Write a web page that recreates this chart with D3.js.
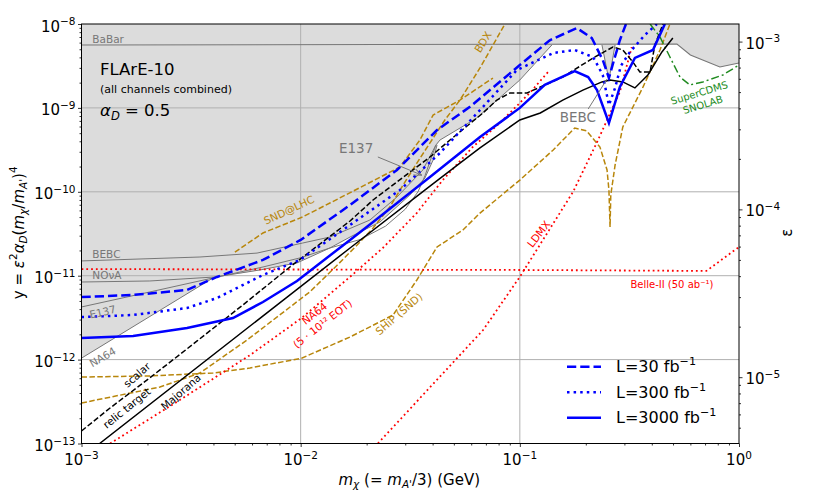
<!DOCTYPE html>
<html>
<head>
<meta charset="utf-8">
<script src="https://cdn.jsdelivr.net/npm/d3@7"></script>
<style>
  body { margin: 0; background: #fff; }
  svg text { font-family: "DejaVu Sans", sans-serif; }
</style>
</head>
<body>
<svg id="chart"></svg>
<script>
// ---- model parameters (for the epsilon axis) ----
var alphaD = 0.5;
var massRatio = 3;

// ---- existing limits (grey) ----
var excludedM = [1e-3, 3.98e-3, 6.52e-3, 9.62e-3, 1.36e-2, 1.68e-2, 2.30e-2, 3.15e-2, 3.69e-2, 4.02e-2, 4.19e-2, 4.32e-2, 6.37e-2, 0.100, 0.140, 0.237, 0.255, 0.272, 0.521, 0.60, 0.818, 1.0];
var excludedY = [1.04e-12, 9.4e-12, 1.17e-11, 1.42e-11, 2.14e-11, 2.89e-11, 4.36e-11, 9.16e-11, 1.46e-10, 2.39e-10, 3.61e-10, 4.14e-10, 7.59e-10, 2.15e-9, 5.62e-9, 5.62e-9, 2.15e-9, 5.62e-9, 5.78e-9, 4.27e-9, 3.07e-9, 3.43e-9];

var babarM = [1e-3, 0.521, 0.60, 0.818, 1.0];
var babarY = [5.62e-9, 5.78e-9, 4.27e-9, 3.07e-9, 3.43e-9];
var bebcM = [1e-3, 3.47e-3, 6.32e-3, 1.02e-2, 1.36e-2, 2.07e-2, 2.75e-2, 3.61e-2, 4.14e-2, 4.32e-2, 6.37e-2, 0.100, 0.140];
var bebcY = [1.5e-11, 1.67e-11, 1.86e-11, 2.45e-11, 2.89e-11, 4.61e-11, 8.67e-11, 1.82e-10, 3.61e-10, 4.14e-10, 7.59e-10, 2.15e-9, 5.62e-9];
var bebcDipM = [0.237, 0.255, 0.272];
var bebcDipY = [5.62e-9, 2.15e-9, 5.62e-9];
var novaM = [1e-3, 2.05e-3, 4.07e-3, 6.52e-3, 9.62e-3, 1.36e-2, 1.68e-2, 2.30e-2, 3.15e-2, 3.69e-2, 4.02e-2, 4.19e-2];
var novaY = [8.41e-12, 8.65e-12, 9.66e-12, 1.17e-11, 1.42e-11, 2.14e-11, 2.89e-11, 4.36e-11, 9.16e-11, 1.46e-10, 2.39e-10, 3.61e-10];
var e137M = [1e-3, 2.05e-3, 3.98e-3, 6.73e-3, 9.93e-3, 1.36e-2, 1.87e-2, 2.44e-2, 3.0e-2, 3.43e-2, 3.69e-2, 3.89e-2, 4.14e-2];
var e137Y = [4.24e-12, 6.4e-12, 9.4e-12, 1.27e-11, 1.63e-11, 2.14e-11, 2.7e-11, 3.9e-11, 6.2e-11, 1.0e-10, 1.55e-10, 2.3e-10, 3.61e-10];
var na64OldM = [1e-3, 3.98e-3];
var na64OldY = [1.04e-12, 9.4e-12];

// ---- projections ----
var belleM = [1e-3, 0.1, 0.71, 1.0];
var belleY = [1.2e-11, 1.17e-11, 1.14e-11, 2.2e-11];
var ldmxM = [2.25e-2, 6.8e-2, 0.1, 0.175, 0.227, 0.286, 0.324];
var ldmxY = [1e-13, 2.25e-12, 9.7e-12, 1e-10, 4.1e-10, 1.55e-9, 5.3e-9];
var na64M = [1.35e-3, 2.81e-3, 5.87e-3, 1.01e-2, 1.68e-2, 2.37e-2, 3.39e-2, 4.45e-2, 6.1e-2, 8.1e-2, 0.111, 0.137];
var na64Y = [1e-13, 3.3e-13, 1.13e-12, 3.13e-12, 9.7e-12, 2.14e-11, 5.6e-11, 1.38e-10, 3.42e-10, 6.6e-10, 1.51e-9, 2.83e-9];

var sndM = [5.01e-3, 6.73e-3, 1.02e-2, 1.36e-2, 1.96e-2, 2.84e-2, 3.5e-2, 4.02e-2, 5.33e-2, 7.54e-2];
var sndY = [1.91e-11, 3.23e-11, 5.01e-11, 7.35e-11, 1.2e-10, 1.98e-10, 4.14e-10, 8.22e-10, 1.24e-9, 2.27e-9];
var bdxM = [1e-3, 2.28e-3, 3.47e-3, 5.69e-3, 1.10e-2, 1.47e-2, 1.81e-2, 2.14e-2, 2.55e-2, 2.93e-2, 3.39e-2, 3.89e-2, 4.55e-2, 5.33e-2, 6.58e-2, 8.55e-2];
var bdxY = [3.04e-13, 4.71e-13, 6.92e-13, 1.71e-12, 6.4e-12, 1.34e-11, 2.32e-11, 3.7e-11, 6.59e-11, 1.2e-10, 2.2e-10, 3.82e-10, 7.18e-10, 1.24e-9, 2.99e-9, 1e-8];
var shipM = [1e-3, 2.05e-3, 3.98e-3, 5.87e-3, 1.01e-2, 1.68e-2, 2.64e-2, 3.39e-2, 4.19e-2, 5.50e-2, 6.58e-2, 0.100, 0.142, 0.178, 0.202, 0.232, 0.250, 0.255, 0.258, 0.260, 0.272, 0.295, 0.365, 0.436, 0.484];
var shipY = [6.2e-13, 6.38e-13, 6.92e-13, 7.94e-13, 1.04e-12, 1.86e-12, 3.4e-12, 8.89e-12, 2.2e-11, 3.51e-11, 5.58e-11, 1.38e-10, 3.15e-10, 5.76e-10, 5.31e-10, 3.42e-10, 1.82e-10, 1.05e-10, 3.8e-11, 9.16e-11, 2.08e-10, 5.92e-10, 1.78e-9, 4.9e-9, 1e-8];
var cdmsM = [0.393, 0.436, 0.484, 0.538, 0.597, 0.684, 0.844, 1.0];
var cdmsY = [1e-8, 7.0e-9, 4.04e-9, 2.33e-9, 1.88e-9, 2.04e-9, 2.47e-9, 3.24e-9];

// ---- relic targets ----
var scalarM = [1e-3, 1.35e-3, 1.91e-3, 2.61e-3, 3.37e-3, 5.45e-3, 8.93e-3, 1.68e-2, 2.14e-2, 3.89e-2, 4.8e-2, 6.79e-2, 7.86e-2, 9.02e-2, 0.108, 0.157, 0.216, 0.266, 0.295, 0.328, 0.353, 0.393, 0.413, 0.450];
var scalarY = [1.41e-13, 2.65e-13, 5.26e-13, 9.9e-13, 1.67e-12, 4.48e-12, 1.27e-11, 4.49e-11, 7.98e-11, 2.6e-10, 4.14e-10, 8.7e-10, 1.24e-9, 1.51e-9, 1.51e-9, 2.33e-9, 3.94e-9, 5.32e-9, 4.9e-9, 3.52e-9, 2.68e-9, 2.68e-9, 5.62e-9, 1e-8];
var majoranaM = [1.21e-3, 1.68e-2, 3.89e-2, 5.33e-2, 6.58e-2, 0.1, 0.124, 0.157, 0.194, 0.237, 0.258, 0.295, 0.335, 0.384, 0.445, 0.499];
var majoranaY = [1e-13, 2.14e-11, 1.17e-10, 2.2e-10, 3.33e-10, 7.18e-10, 8.7e-10, 1.24e-9, 1.63e-9, 2.04e-9, 2.15e-9, 2.04e-9, 1.73e-9, 2.47e-9, 4.64e-9, 6.8e-9];

// ---- FLArE-10 reach ----
var flare30M = [1e-3, 1.72e-3, 3.03e-3, 4.15e-3, 6.73e-3, 1.0e-2, 1.68e-2, 2.75e-2, 4.19e-2, 5.92e-2, 0.1, 0.137, 0.182, 0.213, 0.239, 0.255, 0.269, 0.286, 0.305];
var flare30Y = [5.57e-12, 5.89e-12, 6.76e-12, 9.66e-12, 1.54e-11, 2.67e-11, 6.96e-11, 1.82e-10, 5.45e-10, 1.03e-9, 3.24e-9, 6.4e-9, 8.96e-9, 6.8e-9, 3.72e-9, 2.27e-9, 3.72e-9, 6.4e-9, 1e-8];
var flare300M = [1e-3, 1.72e-3, 3.03e-3, 4.15e-3, 6.73e-3, 9.93e-3, 1.68e-2, 2.84e-2, 4.32e-2, 6.79e-2, 9.7e-2, 0.142, 0.178, 0.216, 0.239, 0.255, 0.272, 0.289, 0.318, 0.372, 0.422];
var flare300Y = [3.22e-12, 3.4e-12, 4.12e-12, 5.42e-12, 1.02e-11, 1.54e-11, 4.02e-11, 1.05e-10, 2.9e-10, 1.03e-9, 2.83e-9, 4.51e-9, 4.9e-9, 4.04e-9, 2.47e-9, 1.08e-9, 1.73e-9, 3.16e-9, 4.64e-9, 7.4e-9, 1e-8];
var flare3000M = [1e-3, 1.72e-3, 3.03e-3, 4.91e-3, 6.73e-3, 9.62e-3, 1.68e-2, 2.14e-2, 3.89e-2, 6.58e-2, 0.1, 0.130, 0.178, 0.205, 0.225, 0.255, 0.286, 0.335, 0.405, 0.459];
var flare3000Y = [1.81e-12, 1.91e-12, 2.38e-12, 3.13e-12, 4.86e-12, 8.65e-12, 2.67e-11, 4.36e-11, 1.5e-10, 4.5e-10, 1e-9, 1.88e-9, 2.75e-9, 2.33e-9, 1.63e-9, 6.61e-10, 1.78e-9, 3.94e-9, 4.9e-9, 1e-8];

var legendLabels = ["L=30 fb", "L=300 fb", "L=3000 fb"];

// ---- axis ticks ----
var xMajor = [1e-3, 1e-2, 1e-1, 1];
var yMajor = [1e-13, 1e-12, 1e-11, 1e-10, 1e-9, 1e-8];
var epsMajor = [1e-5, 1e-4, 1e-3];

var grey = "#777777", gold = "#b8860b", red = "#ff0000", green = "#228b22";

// label anchors in data units
var curveLabels = [
  { t: "BaBar", m: 1.12e-3, y: 6.6e-9, r: 0, c: grey, s: 10.5, a: "start" },
  { t: "BEBC", m: 1.12e-3, y: 1.82e-11, r: 0, c: grey, s: 10.5, a: "start" },
  { t: "NO\u03BDA", m: 1.12e-3, y: 1.02e-11, r: 0, c: grey, s: 10.5, a: "start" },
  { t: "E137", m: 1.25e-3, y: 3.69e-12, r: -13, c: grey, s: 10.5, a: "middle" },
  { t: "NA64", m: 1.25e-3, y: 1.07e-12, r: -30, c: grey, s: 10.5, a: "middle" },
  { t: "E137", m: 1.79e-2, y: 3.33e-10, r: 0, c: grey, s: 13.5, a: "middle" },
  { t: "BEBC", m: 0.184, y: 7.8e-10, r: 0, c: grey, s: 13.5, a: "middle" },
  { t: "SND@LHC", m: 8.85e-3, y: 6.07e-11, r: -25, c: gold, s: 10.5, a: "middle" },
  { t: "BDX", m: 6.79e-2, y: 6.1e-9, r: -58, c: gold, s: 10.5, a: "middle" },
  { t: "SHiP (SND)", m: 2.81e-2, y: 3.5e-12, r: -41, c: gold, s: 10.5, a: "middle" },
  { t: "LDMX", m: 0.122, y: 3.14e-11, r: -53, c: red, s: 10.5, a: "middle" },
  { t: "Belle-II (50 ab\u207B\u00B9)", m: 0.494, y: 7.75e-12, r: 0, c: red, s: 10, a: "middle" },
  { t: "scalar", m: 1.79e-3, y: 6.55e-13, r: -41, c: "#000", s: 10.5, a: "middle" },
  { t: "relic target", m: 1.61e-3, y: 2.65e-13, r: -39, c: "#000", s: 10.5, a: "middle" },
  { t: "Majorana", m: 2.84e-3, y: 4.11e-13, r: -41, c: "#000", s: 10.5, a: "middle" }
];
var twoLineLabels = [
  { lines: ["NA64", "(5 \u00B7 10\u00B9\u00B2 EOT)"], m: 1.2e-2, y: 3.13e-12, r: -38, c: red, s: 10.5 },
  { lines: ["SuperCDMS", "SNOLAB"], m: 0.67, y: 1.31e-9, r: -17, c: green, s: 10 }
];
var pointers = [
  { from: [2.25e-2, 2.6e-10], to: [3.57e-2, 1.58e-10], arrow: true },
  { from: [0.205, 9.7e-10], to: [0.25, 2.21e-9], arrow: false }
];

// ---- layout ----
var width = 822, height = 493;
var margin = { top: 24, right: 83, bottom: 49.5, left: 81.5 };
var w = width - margin.left - margin.right;
var h = height - margin.top - margin.bottom;

var svg = d3.select("#chart").attr("width", width).attr("height", height);
var defs = svg.append("defs");
defs.append("clipPath").attr("id", "plotclip")
  .append("rect").attr("width", w).attr("height", h);
defs.append("marker")
  .attr("id", "arrowhead")
  .attr("viewBox", "0 0 10 10")
  .attr("refX", 10).attr("refY", 5)
  .attr("markerWidth", 8).attr("markerHeight", 8)
  .attr("markerUnits", "userSpaceOnUse")
  .attr("orient", "auto")
  .append("path")
  .attr("d", "M0,1 L10,5 L0,9")
  .attr("fill", "none").attr("stroke", grey).attr("stroke-width", 1.2);

var canvas = svg.append("g")
  .attr("transform", "translate(" + margin.left + "," + margin.top + ")");

var x = d3.scaleLog().domain([1e-3, 1]).range([0, w]);
var y = d3.scaleLog().domain([1e-13, 1e-8]).range([h, 0]);
var toEps = function (v) {
  return Math.sqrt(v / (alphaD * Math.pow(massRatio, -4)));
};
var yEps = d3.scaleLog().domain([toEps(1e-13), toEps(1e-8)]).range([h, 0]);

function zip(ms, ys) {
  return ms.map(function (m, i) { return [m, ys[i]]; });
}
var line = d3.line()
  .x(function (d) { return x(d[0]); })
  .y(function (d) { return y(d[1]); });

var plot = canvas.append("g").attr("clip-path", "url(#plotclip)");

// excluded region
plot.append("path")
  .attr("d", line(zip(excludedM, excludedY).concat([[1, 1e-8], [1e-3, 1e-8]])) + "Z")
  .attr("fill", "#dcdcdc");

// grid
plot.selectAll(".ygrid")
  .data(yMajor.slice(1, -1))
  .enter().append("line")
  .attr("x1", 0).attr("x2", w)
  .attr("y1", function (d) { return y(d); })
  .attr("y2", function (d) { return y(d); })
  .attr("stroke", "#b0b0b0").attr("stroke-width", 1);
plot.selectAll(".xgrid")
  .data(xMajor.slice(1, -1))
  .enter().append("line")
  .attr("y1", 0).attr("y2", h)
  .attr("x1", function (d) { return x(d); })
  .attr("x2", function (d) { return x(d); })
  .attr("stroke", "#b0b0b0").attr("stroke-width", 1);

var series = [
  { m: babarM, y: babarY, c: grey, lw: 1.1, dash: null },
  { m: bebcM, y: bebcY, c: grey, lw: 1, dash: null },
  { m: bebcDipM, y: bebcDipY, c: grey, lw: 1, dash: null },
  { m: novaM, y: novaY, c: grey, lw: 1, dash: null },
  { m: e137M, y: e137Y, c: grey, lw: 1, dash: null },
  { m: na64OldM, y: na64OldY, c: grey, lw: 1, dash: null },
  { m: sndM, y: sndY, c: gold, lw: 1.5, dash: "5.5,2.4" },
  { m: bdxM, y: bdxY, c: gold, lw: 1.5, dash: "5.5,2.4" },
  { m: shipM, y: shipY, c: gold, lw: 1.5, dash: "5.5,2.4" },
  { m: belleM, y: belleY, c: red, lw: 1.8, dash: "1.8,3" },
  { m: ldmxM, y: ldmxY, c: red, lw: 1.8, dash: "1.8,3" },
  { m: na64M, y: na64Y, c: red, lw: 1.8, dash: "1.8,3" },
  { m: cdmsM, y: cdmsY, c: green, lw: 1.5, dash: "8,3,2,3" },
  { m: scalarM, y: scalarY, c: "#000", lw: 1.5, dash: "5.5,2.4" },
  { m: majoranaM, y: majoranaY, c: "#000", lw: 1.5, dash: null },
  { m: flare30M, y: flare30Y, c: "#0000ff", lw: 2.5, dash: "9.25,4" },
  { m: flare300M, y: flare300Y, c: "#0000ff", lw: 2.5, dash: "2.5,4.1" },
  { m: flare3000M, y: flare3000Y, c: "#0000ff", lw: 2.5, dash: null }
];

plot.selectAll(".curve")
  .data(series)
  .enter().append("path")
  .attr("class", "curve")
  .attr("d", function (d) { return line(zip(d.m, d.y)); })
  .attr("fill", "none")
  .attr("stroke", function (d) { return d.c; })
  .attr("stroke-width", function (d) { return d.lw; })
  .attr("stroke-dasharray", function (d) { return d.dash; });

// pointers
pointers.forEach(function (p) {
  canvas.append("line")
    .attr("x1", x(p.from[0])).attr("y1", y(p.from[1]))
    .attr("x2", x(p.to[0])).attr("y2", y(p.to[1]))
    .attr("stroke", grey).attr("stroke-width", 1)
    .attr("marker-end", p.arrow ? "url(#arrowhead)" : null);
});

// curve labels
curveLabels.forEach(function (l) {
  canvas.append("text")
    .attr("transform", "translate(" + x(l.m) + "," + y(l.y) + ") rotate(" + l.r + ")")
    .attr("text-anchor", l.a)
    .attr("dy", "0.35em")
    .style("font-size", l.s + "px")
    .attr("fill", l.c)
    .text(l.t);
});
twoLineLabels.forEach(function (l) {
  var t = canvas.append("text")
    .attr("transform", "translate(" + x(l.m) + "," + y(l.y) + ") rotate(" + l.r + ")")
    .attr("text-anchor", "middle")
    .style("font-size", l.s + "px")
    .attr("fill", l.c);
  t.append("tspan").attr("x", 0).attr("y", -2).text(l.lines[0]);
  t.append("tspan").attr("x", 0).attr("y", l.s + 0.5).text(l.lines[1]);
});

// rich text helper (sub/superscripts)
function rich(sel, parts, base) {
  var off = 0;
  parts.forEach(function (p) {
    var target = p[1] === "sup" ? -0.42 * base : p[1] === "sub" ? 0.25 * base : 0;
    var ts = sel.append("tspan").text(p[0]).attr("dy", target - off);
    if (p[1]) ts.style("font-size", (base * 0.7) + "px");
    if (p[2]) ts.style("font-style", "italic");
    off = target;
  });
}

// axes
function minorTicks(lo, hi) {
  var out = [];
  for (var e = Math.floor(Math.log10(lo)); e <= Math.ceil(Math.log10(hi)); e++) {
    for (var k = 2; k <= 9; k++) {
      var v = k * Math.pow(10, e);
      if (v >= lo && v <= hi) out.push(v);
    }
  }
  return out;
}
function styleAxis(g) {
  g.select(".domain").remove();
  g.selectAll("line").attr("stroke", "#000").attr("stroke-width", 0.8);
  g.selectAll("text").remove();
}

var gx = canvas.append("g").attr("transform", "translate(0," + h + ")");
gx.append("g").call(d3.axisBottom(x).tickValues(xMajor).tickSize(3.5)).call(styleAxis);
gx.append("g").call(d3.axisBottom(x).tickValues(minorTicks(1e-3, 1)).tickSize(2)).call(styleAxis);
var gy = canvas.append("g");
gy.append("g").call(d3.axisLeft(y).tickValues(yMajor).tickSize(3.5)).call(styleAxis);
gy.append("g").call(d3.axisLeft(y).tickValues(minorTicks(1e-13, 1e-8)).tickSize(2)).call(styleAxis);
var ge = canvas.append("g").attr("transform", "translate(" + w + ",0)");
ge.append("g").call(d3.axisRight(yEps).tickValues(epsMajor).tickSize(3.5)).call(styleAxis);
ge.append("g").call(d3.axisRight(yEps).tickValues(minorTicks(yEps.domain()[0], yEps.domain()[1])).tickSize(2)).call(styleAxis);

function powLabel(sel, v) {
  var e = Math.round(Math.log10(v));
  rich(sel, [["10", ""], [e < 0 ? "\u2212" + (-e) : String(e), "sup"]], 15);
}
xMajor.forEach(function (v) {
  var t = canvas.append("text").attr("x", x(v)).attr("y", h + 21.5)
    .attr("text-anchor", "middle").style("font-size", "15px");
  powLabel(t, v);
});
yMajor.forEach(function (v) {
  var t = canvas.append("text").attr("x", -6).attr("y", y(v) + 7.5)
    .attr("text-anchor", "end").style("font-size", "15px");
  powLabel(t, v);
});
epsMajor.forEach(function (v) {
  var t = canvas.append("text").attr("x", w + 6.5).attr("y", yEps(v) + 7)
    .attr("text-anchor", "start").style("font-size", "15px");
  powLabel(t, v);
});

// frame
canvas.append("rect").attr("width", w).attr("height", h)
  .attr("fill", "none").attr("stroke", "#000").attr("stroke-width", 1);

// axis titles
var xt = canvas.append("text").attr("x", w / 2 - 1).attr("y", h + 41)
  .attr("text-anchor", "middle").style("font-size", "15px");
rich(xt, [["m", "", 1], ["\u03C7", "sub", 1], [" (= ", ""], ["m", "", 1], ["A'", "sub", 1], ["/3) (GeV)", ""]], 15);

var yt = canvas.append("text")
  .attr("transform", "translate(-58," + (h / 2 - 1) + ") rotate(-90)")
  .attr("text-anchor", "middle").style("font-size", "15px");
rich(yt, [["y = ", ""], ["\u03B5", "", 1], ["2", "sup"], ["\u03B1", "", 1], ["D", "sub", 1], ["(", ""], ["m", "", 1], ["\u03C7", "sub", 1], ["/", ""], ["m", "", 1], ["A'", "sub", 1], [")", ""], ["4", "sup"]], 15);

canvas.append("text")
  .attr("transform", "translate(" + (w + 53) + "," + (h / 2 - 1) + ") rotate(-90)")
  .attr("text-anchor", "middle").style("font-size", "15px")
  .text("\u03B5");

// annotation block
canvas.append("text").attr("x", 18.5).attr("y", 51)
  .style("font-size", "16.5px").text("FLArE-10");
canvas.append("text").attr("x", 18.5).attr("y", 69)
  .style("font-size", "11px").text("(all channels combined)");
var ad = canvas.append("text").attr("x", 18.5).attr("y", 92).style("font-size", "16.5px");
rich(ad, [["\u03B1", "", 1], ["D", "sub", 1], [" = 0.5", ""]], 16.5);

// legend
var legendStyles = [series[15], series[16], series[17]];
var leg = canvas.append("g").attr("transform", "translate(485.5,342.7)");
legendStyles.forEach(function (s, i) {
  var row = leg.append("g").attr("transform", "translate(0," + i * 25.5 + ")");
  row.append("line").attr("x1", 0).attr("x2", 34).attr("y1", 0).attr("y2", 0)
    .attr("stroke", s.c).attr("stroke-width", s.lw).attr("stroke-dasharray", s.dash);
  var t = row.append("text").attr("x", 49).attr("y", 5.5).style("font-size", "16px");
  rich(t, [[legendLabels[i], ""], ["\u22121", "sup"]], 16);
});
</script>
</body>
</html>
